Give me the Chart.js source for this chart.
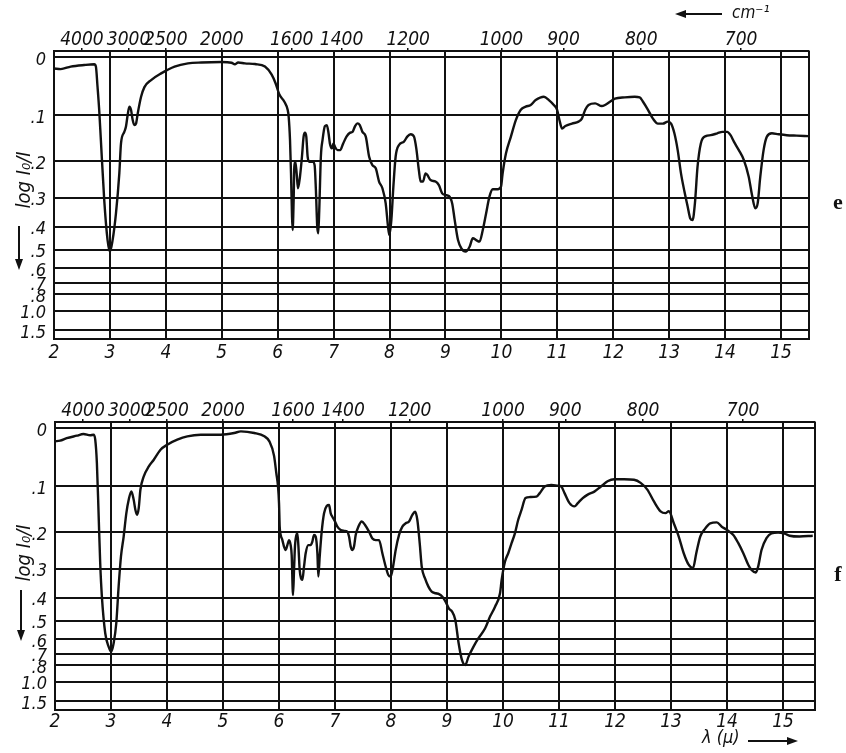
<!DOCTYPE html>
<html>
<head>
<meta charset="utf-8">
<script src="https://cdn.jsdelivr.net/npm/chart.js@4/dist/chart.umd.min.js"></script>
<style>
  html, body { margin: 0; padding: 0; background: #fff; }
  #wrap { position: relative; width: 846px; height: 753px; }
  canvas { position: absolute; left: 0; }
</style>
</head>
<body>
<div id="wrap">
  <canvas id="chartE" width="846" height="376" style="top:0"></canvas>
  <canvas id="chartF" width="846" height="377" style="top:376px"></canvas>
</div>
<script>
// spectrum e
const eWavelength = [2.000, 2.120, 2.299, 2.539, 2.719, 2.749, 2.778, 2.808, 2.838, 2.898, 2.958, 3.000, 3.048, 3.108, 3.168, 3.198, 3.257, 3.287, 3.317, 3.347, 3.377, 3.407, 3.437, 3.467, 3.497, 3.557, 3.617, 3.737, 3.916, 4.156, 4.395, 4.635, 4.994, 5.174, 5.234, 5.293, 5.413, 5.593, 5.772, 5.892, 5.960, 6.030, 6.119, 6.178, 6.196, 6.220, 6.238, 6.256, 6.267, 6.285, 6.297, 6.315, 6.339, 6.362, 6.398, 6.434, 6.463, 6.487, 6.511, 6.535, 6.564, 6.624, 6.660, 6.683, 6.707, 6.725, 6.743, 6.772, 6.802, 6.844, 6.879, 6.909, 6.933, 6.969, 6.998, 7.028, 7.070, 7.117, 7.171, 7.230, 7.289, 7.337, 7.384, 7.426, 7.468, 7.515, 7.575, 7.634, 7.693, 7.753, 7.812, 7.872, 7.931, 7.973, 7.996, 8.032, 8.068, 8.109, 8.169, 8.258, 8.317, 8.377, 8.436, 8.478, 8.525, 8.555, 8.597, 8.644, 8.674, 8.733, 8.822, 8.882, 8.941, 9.001, 9.060, 9.120, 9.165, 9.224, 9.284, 9.360, 9.431, 9.490, 9.549, 9.608, 9.667, 9.727, 9.786, 9.845, 9.933, 9.992, 10.022, 10.081, 10.170, 10.258, 10.347, 10.435, 10.524, 10.613, 10.760, 10.849, 10.937, 10.996, 11.038, 11.085, 11.144, 11.262, 11.380, 11.439, 11.499, 11.558, 11.676, 11.794, 11.853, 11.942, 12.030, 12.207, 12.384, 12.473, 12.532, 12.621, 12.709, 12.798, 12.887, 12.975, 13.034, 13.093, 13.152, 13.211, 13.271, 13.330, 13.377, 13.418, 13.460, 13.507, 13.566, 13.654, 13.743, 13.861, 13.950, 14.038, 14.097, 14.157, 14.245, 14.334, 14.422, 14.481, 14.540, 14.582, 14.629, 14.688, 14.747, 14.836, 14.954, 15.102, 15.279, 15.486];
const eAbsorbance = [0.018, 0.019, 0.015, 0.0125, 0.0114, 0.015, 0.048, 0.090, 0.151, 0.307, 0.455, 0.509, 0.455, 0.351, 0.231, 0.159, 0.134, 0.123, 0.100, 0.084, 0.090, 0.110, 0.120, 0.117, 0.097, 0.066, 0.049, 0.037, 0.026, 0.015, 0.0099, 0.0085, 0.0078, 0.0089, 0.0114, 0.0085, 0.0099, 0.011, 0.015, 0.028, 0.042, 0.062, 0.075, 0.090, 0.103, 0.151, 0.231, 0.363, 0.413, 0.308, 0.214, 0.2015, 0.231, 0.272, 0.240, 0.189, 0.144, 0.136, 0.144, 0.189, 0.2015, 0.2015, 0.210, 0.277, 0.400, 0.426, 0.340, 0.189, 0.151, 0.122, 0.120, 0.137, 0.159, 0.170, 0.159, 0.168, 0.174, 0.174, 0.159, 0.144, 0.136, 0.134, 0.122, 0.1165, 0.120, 0.134, 0.144, 0.189, 0.210, 0.218, 0.253, 0.272, 0.318, 0.400, 0.433, 0.375, 0.268, 0.189, 0.1625, 0.155, 0.144, 0.139, 0.144, 0.170, 0.224, 0.253, 0.253, 0.231, 0.235, 0.249, 0.253, 0.263, 0.287, 0.292, 0.295, 0.318, 0.375, 0.455, 0.493, 0.509, 0.485, 0.447, 0.455, 0.462, 0.413, 0.351, 0.297, 0.275, 0.275, 0.268, 0.231, 0.182, 0.144, 0.110, 0.090, 0.084, 0.081, 0.072, 0.066, 0.072, 0.081, 0.090, 0.110, 0.127, 0.122, 0.117, 0.113, 0.107, 0.090, 0.081, 0.078, 0.083, 0.081, 0.075, 0.0695, 0.067, 0.066, 0.067, 0.075, 0.090, 0.107, 0.117, 0.117, 0.113, 0.117, 0.137, 0.174, 0.231, 0.280, 0.328, 0.369, 0.375, 0.318, 0.214, 0.159, 0.143, 0.141, 0.137, 0.134, 0.134, 0.141, 0.155, 0.174, 0.197, 0.240, 0.292, 0.334, 0.318, 0.240, 0.174, 0.144, 0.137, 0.139, 0.141, 0.142, 0.143];

// spectrum f
const fWavelength = [2.000, 2.090, 2.209, 2.389, 2.508, 2.628, 2.688, 2.718, 2.748, 2.778, 2.807, 2.837, 2.897, 2.957, 3.005, 3.047, 3.094, 3.136, 3.178, 3.226, 3.274, 3.316, 3.364, 3.405, 3.435, 3.465, 3.495, 3.525, 3.585, 3.675, 3.764, 3.884, 4.004, 4.183, 4.362, 4.602, 4.961, 5.200, 5.319, 5.559, 5.738, 5.828, 5.911, 5.952, 5.982, 6.000, 6.012, 6.030, 6.060, 6.089, 6.119, 6.149, 6.179, 6.208, 6.226, 6.250, 6.268, 6.286, 6.310, 6.327, 6.345, 6.369, 6.393, 6.417, 6.446, 6.476, 6.524, 6.565, 6.595, 6.625, 6.655, 6.685, 6.702, 6.726, 6.762, 6.804, 6.851, 6.893, 6.923, 6.952, 7.000, 7.042, 7.101, 7.161, 7.220, 7.250, 7.280, 7.310, 7.339, 7.369, 7.417, 7.476, 7.536, 7.607, 7.667, 7.726, 7.786, 7.845, 7.905, 7.952, 7.994, 8.036, 8.083, 8.143, 8.202, 8.262, 8.321, 8.381, 8.429, 8.470, 8.512, 8.548, 8.607, 8.667, 8.726, 8.798, 8.857, 8.917, 8.976, 9.036, 9.089, 9.148, 9.207, 9.266, 9.325, 9.384, 9.473, 9.561, 9.680, 9.768, 9.857, 9.946, 9.975, 10.034, 10.093, 10.152, 10.212, 10.271, 10.330, 10.401, 10.478, 10.596, 10.655, 10.743, 10.862, 10.980, 11.039, 11.098, 11.187, 11.275, 11.335, 11.423, 11.512, 11.630, 11.748, 11.866, 11.985, 12.162, 12.339, 12.457, 12.576, 12.694, 12.812, 12.901, 12.960, 13.049, 13.137, 13.226, 13.314, 13.391, 13.450, 13.521, 13.592, 13.699, 13.817, 13.905, 13.994, 14.112, 14.201, 14.290, 14.378, 14.437, 14.514, 14.556, 14.615, 14.704, 14.792, 14.910, 15.028, 15.117, 15.294, 15.530];
const fAbsorbance = [0.021, 0.020, 0.016, 0.012, 0.0094, 0.0114, 0.0104, 0.018, 0.058, 0.156, 0.283, 0.395, 0.565, 0.648, 0.684, 0.626, 0.512, 0.359, 0.264, 0.211, 0.156, 0.1275, 0.1106, 0.1275, 0.1487, 0.1597, 0.1451, 0.1073, 0.0817, 0.0635, 0.0518, 0.0348, 0.0265, 0.0184, 0.0130, 0.0104, 0.0104, 0.0078, 0.0052, 0.0078, 0.0130, 0.0211, 0.045, 0.076, 0.101, 0.135, 0.187, 0.207, 0.220, 0.237, 0.246, 0.233, 0.220, 0.233, 0.260, 0.390, 0.304, 0.233, 0.207, 0.203, 0.233, 0.304, 0.331, 0.336, 0.294, 0.255, 0.233, 0.233, 0.224, 0.207, 0.211, 0.255, 0.325, 0.265, 0.199, 0.1565, 0.1406, 0.1385, 0.1565, 0.164, 0.175, 0.187, 0.195, 0.197, 0.199, 0.211, 0.237, 0.246, 0.237, 0.207, 0.187, 0.175, 0.183, 0.199, 0.216, 0.220, 0.220, 0.255, 0.294, 0.320, 0.325, 0.294, 0.246, 0.207, 0.187, 0.179, 0.175, 0.160, 0.153, 0.1715, 0.228, 0.294, 0.331, 0.359, 0.377, 0.383, 0.386, 0.396, 0.416, 0.445, 0.457, 0.4955, 0.626, 0.751, 0.797, 0.723, 0.648, 0.594, 0.538, 0.480, 0.436, 0.383, 0.336, 0.279, 0.255, 0.228, 0.203, 0.171, 0.149, 0.124, 0.122, 0.121, 0.114, 0.101, 0.098, 0.0995, 0.101, 0.114, 0.1345, 0.1415, 0.1345, 0.124, 0.117, 0.111, 0.101, 0.091, 0.087, 0.087, 0.088, 0.094, 0.107, 0.131, 0.152, 0.156, 0.152, 0.179, 0.211, 0.255, 0.288, 0.2985, 0.255, 0.211, 0.1945, 0.179, 0.177, 0.187, 0.1945, 0.207, 0.228, 0.255, 0.288, 0.304, 0.312, 0.293, 0.246, 0.215, 0.203, 0.201, 0.204, 0.209, 0.211, 0.209];

const wavelengthTicks = [2, 3, 4, 5, 6, 7, 8, 9, 10, 11, 12, 13, 14, 15];
const wavenumberTicks = [4000, 3000, 2500, 2000, 1600, 1400, 1200, 1000, 900, 800, 700];
const absorbanceTicks = [0, 0.1, 0.2, 0.3, 0.4, 0.5, 0.6, 0.7, 0.8, 1.0, 1.5];
const absorbanceLabels = ['0', '.1', '.2', '.3', '.4', '.5', '.6', '.7', '.8', '1.0', '1.5'];

const ink = '#111';
const family = '"DejaVu Sans Condensed", "Liberation Sans Narrow", "DejaVu Sans", sans-serif';
const tickFont = { family: family, size: 19, style: 'italic' };
const yFont = { family: family, size: 18, style: 'italic' };
const T_TOP = 1.0213; // transmittance at the top edge of the grid

// the paper is ruled linear in transmittance but labelled in log I0/I
class AbsorbanceScale extends Chart.LinearScale {
    buildTicks() {
        return absorbanceTicks.map(v => ({ value: v }));
    }
    getPixelForValue(value) {
        return this.getPixelForDecimal(Math.pow(10, -value) / T_TOP);
    }
    getValueForPixel(pixel) {
        return -Math.log10(this.getDecimalForPixel(pixel) * T_TOP);
    }
}
AbsorbanceScale.id = 'absorbance';
AbsorbanceScale.defaults = Chart.LinearScale.defaults;
Chart.register(AbsorbanceScale);

function arrow(ctx, x1, y1, x2, y2) {
    const a = Math.atan2(y2 - y1, x2 - x1);
    ctx.lineWidth = 2;
    ctx.beginPath();
    ctx.moveTo(x1, y1);
    ctx.lineTo(x2 - 8 * Math.cos(a), y2 - 8 * Math.sin(a));
    ctx.stroke();
    ctx.beginPath();
    ctx.moveTo(x2, y2);
    ctx.lineTo(x2 - 11 * Math.cos(a) + 4 * Math.sin(a), y2 - 11 * Math.sin(a) - 4 * Math.cos(a));
    ctx.lineTo(x2 - 11 * Math.cos(a) - 4 * Math.sin(a), y2 - 11 * Math.sin(a) + 4 * Math.cos(a));
    ctx.closePath();
    ctx.fill();
}

function decor(cfg) {
    return {
        id: 'decor',
        afterDraw(chart) {
            const ctx = chart.ctx;
            ctx.save();
            ctx.fillStyle = ink;
            ctx.strokeStyle = ink;
            ctx.textAlign = 'center';
            ctx.textBaseline = 'middle';

            // rotated axis title
            ctx.save();
            ctx.font = 'italic 20px ' + family;
            ctx.translate(cfg.titleX, cfg.titleY);
            ctx.rotate(-Math.PI / 2);
            ctx.fillText('log I\u2080/I', 0, 0);
            ctx.restore();
            arrow(ctx, cfg.arrowX, cfg.arrowTop, cfg.arrowX, cfg.arrowBottom);

            // panel letter
            ctx.font = 'bold 22px "Liberation Serif", "DejaVu Serif", serif';
            ctx.fillText(cfg.letter, 838, cfg.letterY);

            if (cfg.extra) cfg.extra(ctx);
            ctx.restore();
        }
    };
}

function makeChart(id, wavelength, absorbance, box, decoration) {
    const ctx = document.getElementById(id).getContext('2d');
    return new Chart(ctx, {
        type: 'line',
        data: {
            datasets: [{
                data: wavelength.map((x, i) => ({ x: x, y: absorbance[i] })),
                borderColor: ink,
                borderWidth: 2.4,
                pointRadius: 0,
                fill: false,
                cubicInterpolationMode: 'monotone',
                xAxisID: 'x',
                yAxisID: 'y'
            }]
        },
        options: {
            responsive: false,
            animation: false,
            events: [],
            layout: { padding: { left: 0, right: box.padRight, top: 0, bottom: 0 } },
            plugins: {
                legend: { display: false },
                tooltip: { enabled: false }
            },
            scales: {
                x: {
                    type: 'linear',
                    position: 'bottom',
                    min: 2,
                    max: box.xMax,
                    afterBuildTicks: s => { s.ticks = wavelengthTicks.concat([box.xMax]).map(v => ({ value: v })); },
                    afterFit: s => { s.height = box.bottomH; },
                    ticks: {
                        autoSkip: false,
                        maxRotation: 0,
                        padding: box.labelPad,
                        color: ink,
                        font: tickFont,
                        callback: v => wavelengthTicks.includes(v) ? String(v) : ''
                    },
                    grid: { color: ink, lineWidth: 2, drawTicks: false },
                    border: { display: true, color: ink, width: 2 }
                },
                x2: {
                    type: 'linear',
                    position: 'top',
                    min: 2,
                    max: box.xMax,
                    afterBuildTicks: s => { s.ticks = wavenumberTicks.map(w => ({ value: 10000 / w })); },
                    afterFit: s => { s.height = box.topH; },
                    ticks: {
                        autoSkip: false,
                        maxRotation: 0,
                        padding: -3,
                        color: ink,
                        font: tickFont,
                        callback: (v, i) => String(wavenumberTicks[i])
                    },
                    grid: { drawOnChartArea: false, color: ink, lineWidth: 1.5, tickLength: 3 },
                    border: { display: true, color: ink, width: 2 }
                },
                y: {
                    type: 'absorbance',
                    position: 'left',
                    afterFit: s => { s.width = box.leftW; },
                    ticks: {
                        autoSkip: false,
                        padding: 8,
                        labelOffset: 3,
                        color: ink,
                        font: yFont,
                        callback: (v, i) => absorbanceLabels[i]
                    },
                    grid: { color: ink, lineWidth: 2, drawTicks: false },
                    border: { display: true, color: ink, width: 2 }
                }
            }
        },
        plugins: [decor(decoration)]
    });
}

makeChart('chartE', eWavelength, eAbsorbance,
    { padRight: 37, xMax: 15.5, topH: 51, bottomH: 37, leftW: 54, labelPad: 3 },
    {
        titleX: 25, titleY: 180, arrowX: 19, arrowTop: 226, arrowBottom: 270,
        letter: 'e', letterY: 203,
        extra: ctx => {
            ctx.font = 'italic 17px ' + family;
            ctx.textAlign = 'left';
            ctx.fillText('cm\u207B\u00B9', 732, 14);
            arrow(ctx, 722, 14, 675, 14);
        }
    });

makeChart('chartF', fWavelength, fAbsorbance,
    { padRight: 31, xMax: 15.57, topH: 46, bottomH: 43, leftW: 55, labelPad: 1 },
    {
        titleX: 25, titleY: 177, arrowX: 21, arrowTop: 214, arrowBottom: 265,
        letter: 'f', letterY: 199,
        extra: ctx => {
            ctx.font = 'italic 18px ' + family;
            ctx.textAlign = 'left';
            ctx.fillText('\u03BB (\u00B5)', 702, 362);
            arrow(ctx, 748, 365, 798, 365);
        }
    });
</script>
</body>
</html>
